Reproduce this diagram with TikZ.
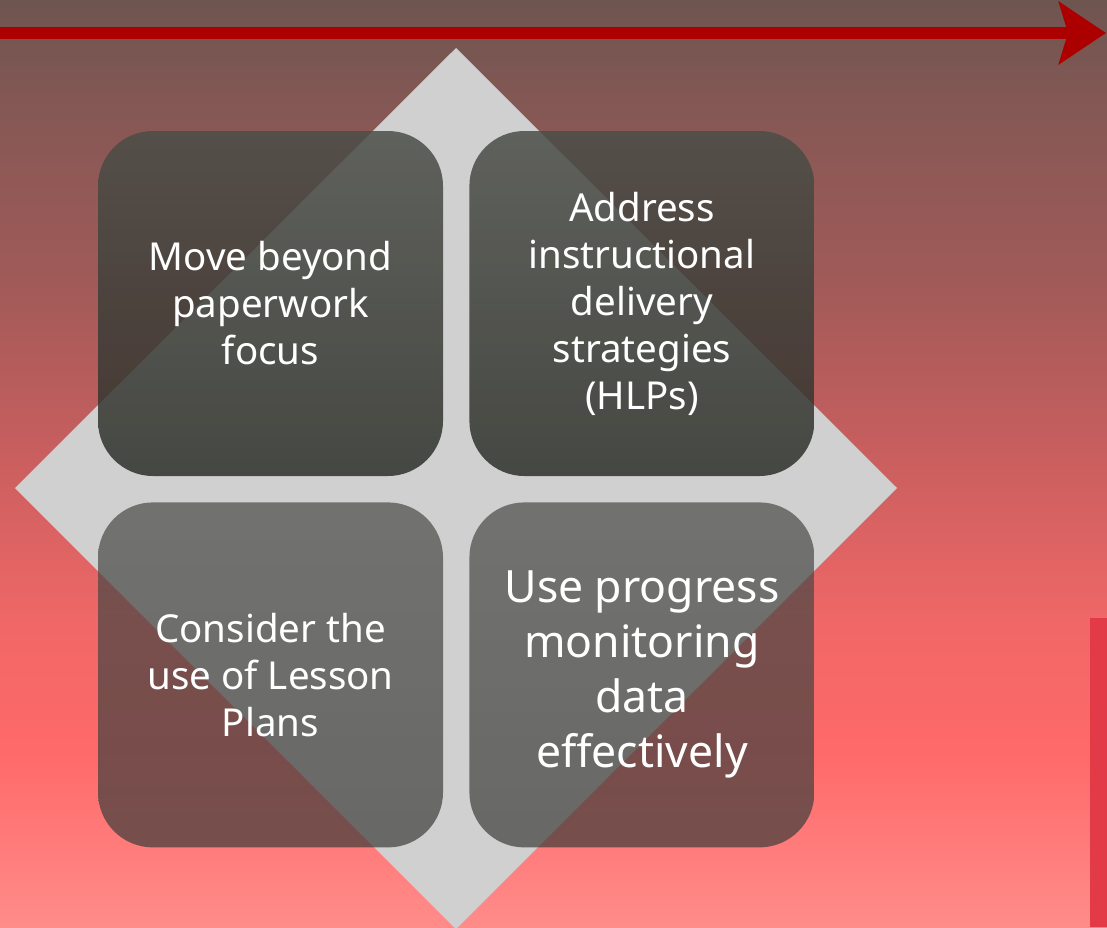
\documentclass[tikz,border=0pt]{standalone}
\usepackage{fontspec}
\setmainfont{Noto Sans}
\usepackage{xcolor}
\usetikzlibrary{arrows.meta,positioning}
\definecolor{bgtop}{RGB}{110,85,80}
\definecolor{bgupper}{RGB}{135,88,85}
\definecolor{bgmid}{RGB}{160,90,88}
\definecolor{bgcentre}{RGB}{203,95,95}
\definecolor{bglower}{RGB}{240,103,103}
\definecolor{bgred}{RGB}{255,105,105}
\definecolor{bgbottom}{RGB}{255,140,138}
\definecolor{arrowred}{RGB}{172,0,0}
\definecolor{barred}{RGB}{226,58,70}
\definecolor{diamondgray}{RGB}{208,208,208}
\definecolor{tiletop}{RGB}{76,78,72}
\definecolor{tilebot}{RGB}{46,48,42}
\definecolor{lowtop}{RGB}{74,75,72}
\definecolor{lowbot}{RGB}{60,61,58}
% stops between 25bp and 75bp: that part is stretched over the path
\pgfdeclareverticalshading{bgshade}{100bp}{%
  color(0bp)=(bgbottom);
  color(25bp)=(bgbottom);
  color(34.5bp)=(bgred);
  color(41.5bp)=(bglower);
  color(50bp)=(bgcentre);
  color(60bp)=(bgmid);
  color(68.5bp)=(bgupper);
  color(75bp)=(bgtop);
  color(100bp)=(bgtop)}

\begin{document}
\begin{tikzpicture}[x=1pt,y=-1pt,
  tile/.style={rounded corners=55pt,minimum width=345pt,minimum height=345pt,
    top color=tiletop,bottom color=tilebot,fill opacity=0.85,text opacity=1,
    text=white,align=center,font=\fontsize{38.5}{47}\selectfont},
  lowtile/.style={tile,top color=lowtop,bottom color=lowbot,fill opacity=0.7},
  node distance=26pt]
  \useasboundingbox (0,0) rectangle (1107,927);
  \fill[shading=bgshade] (0,0) rectangle (1107,927);
  \fill[diamondgray] (456,48) -- (897,488) -- (456,929) -- (15,488) -- cycle;
  \fill[barred] (1090,618) rectangle (1107,927);

  \node[tile] (move) at (270.5,303.5) {Move beyond\\paperwork\\focus};
  \node[tile,right=of move] (address) {Address\\instructional\\delivery\\strategies\\(HLPs)};
  \node[lowtile,below=of move] (consider) {Consider the\\use of Lesson\\Plans};
  \node[lowtile,right=of consider,font=\fontsize{44.5}{55}\selectfont] (progress) {Use progress\\monitoring\\data\\effectively};

  \coordinate (start) at (0,33);
  \coordinate (tip) at (1106,33);
  \draw[arrowred,line width=12pt,-{Stealth[length=47pt,width=62pt,inset=9pt]}] (start) -- (tip);
\end{tikzpicture}
\end{document}
